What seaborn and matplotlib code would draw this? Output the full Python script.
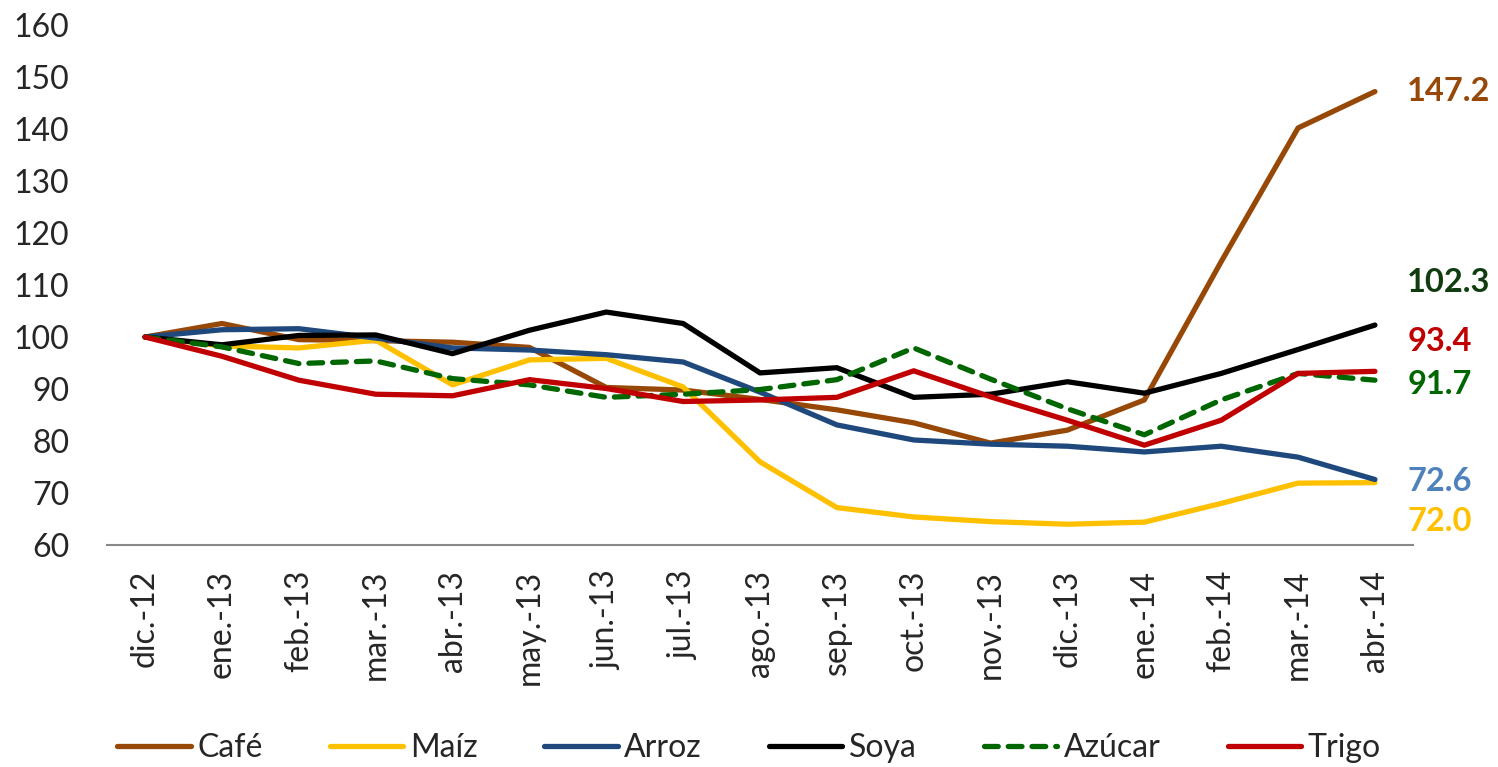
import matplotlib
matplotlib.use('Agg')
import matplotlib.pyplot as plt
import seaborn as sns
import pandas as pd

# datos (índice dic.-12 = 100)
meses = ['dic.-12', 'ene.-13', 'feb.-13', 'mar.-13', 'abr.-13', 'may.-13', 'jun.-13',
         'jul.-13', 'ago.-13', 'sep.-13', 'oct.-13', 'nov.-13', 'dic.-13', 'ene.-14',
         'feb.-14', 'mar.-14', 'abr.-14']

cafe = [100, 102.6, 99.5, 99.3, 99.0, 98.0, 90.3, 89.8, 88.0, 86.0, 83.5, 79.6, 82.1, 87.9, 114.5, 140.2, 147.2]
maiz = [100, 98.3, 97.9, 99.4, 90.8, 95.6, 95.9, 90.4, 76.0, 67.2, 65.4, 64.5, 64.0, 64.4, 68.0, 71.9, 72.0]
arroz = [100, 101.4, 101.6, 99.8, 97.9, 97.5, 96.6, 95.2, 89.4, 83.1, 80.2, 79.4, 79.0, 77.9, 79.0, 76.9, 72.6]
soya = [100, 98.5, 100.3, 100.4, 96.8, 101.3, 104.8, 102.6, 93.1, 94.1, 88.4, 89.0, 91.4, 89.2, 93.0, 97.6, 102.3]
azucar = [100, 98.1, 94.9, 95.4, 92.0, 90.8, 88.4, 89.0, 89.9, 91.8, 97.9, 91.9, 86.2, 81.2, 87.9, 93.0, 91.7]
trigo = [100, 96.3, 91.7, 89.0, 88.7, 91.8, 90.1, 87.6, 87.9, 88.4, 93.5, 88.5, 84.0, 79.2, 84.0, 93.0, 93.4]

series = {'Café': cafe, 'Maíz': maiz, 'Arroz': arroz, 'Soya': soya, 'Azúcar': azucar, 'Trigo': trigo}
colores = {'Café': '#974806', 'Maíz': '#FFC000', 'Arroz': '#1F497D',
           'Soya': '#000000', 'Azúcar': '#006600', 'Trigo': '#C00000'}

# etiquetas finales (texto, color, posición vertical en el eje)
etiquetas = ['147.2', '102.3', '93.4', '91.7', '72.6', '72.0']
etiq_colores = ['#974806', '#0F3D0F', '#C00000', '#006600', '#4F81BD', '#FFC000']
etiq_y = [147.2, 110.4, 99.2, 90.8, 72.3, 64.6]

df = pd.concat([pd.DataFrame({'mes': range(len(meses)), 'valor': v, 'serie': k})
                for k, v in series.items()], ignore_index=True)

sns.set_theme(style='white')
plt.rcParams['font.family'] = ['Lato', 'DejaVu Sans']

fig = plt.figure(figsize=(14.98, 7.67), dpi=100)
ax = fig.add_axes([0.0712, 0.2894, 0.8723, 0.678])

dashes = {k: '' for k in series}
dashes['Azúcar'] = (2.6, 1.9)
sns.lineplot(data=df, x='mes', y='valor', hue='serie', style='serie',
             palette=colores, dashes=dashes, linewidth=3.8, ax=ax,
             hue_order=list(series), style_order=list(series))
for ln in ax.get_lines():
    ln.set_dash_capstyle('round')
    ln.set_solid_capstyle('round')

ax.set_xlim(-0.5, len(meses) - 0.5)
ax.set_ylim(60, 160)
ax.set_yticks(range(60, 161, 10))
ax.set_xticks(range(len(meses)))
ax.set_xticklabels(meses, rotation=90)
ax.tick_params(axis='y', labelsize=23, pad=27, length=0)
ax.tick_params(axis='x', labelsize=23, pad=18, length=0)
ax.set_xlabel('')
ax.set_ylabel('')
for s in ['top', 'right', 'left']:
    ax.spines[s].set_visible(False)
ax.spines['bottom'].set_color('#888888')
ax.spines['bottom'].set_linewidth(1.5)
ax.grid(False)

for txt, c, y in zip(etiquetas, etiq_colores, etiq_y):
    ax.text(len(meses) - 1 + 0.42, y, txt, color=c, fontsize=23.5, fontweight='bold',
            ha='left', va='center', clip_on=False)

handles, labels = ax.get_legend_handles_labels()
ax.legend(handles, labels, loc='center', bbox_to_anchor=(0.5, 19 / 767),
          bbox_transform=fig.transFigure, ncol=6, frameon=False, fontsize=23,
          handlelength=2.3, handletextpad=0.2, columnspacing=2.1, borderaxespad=0)

fig.savefig('out.png', dpi=100)
